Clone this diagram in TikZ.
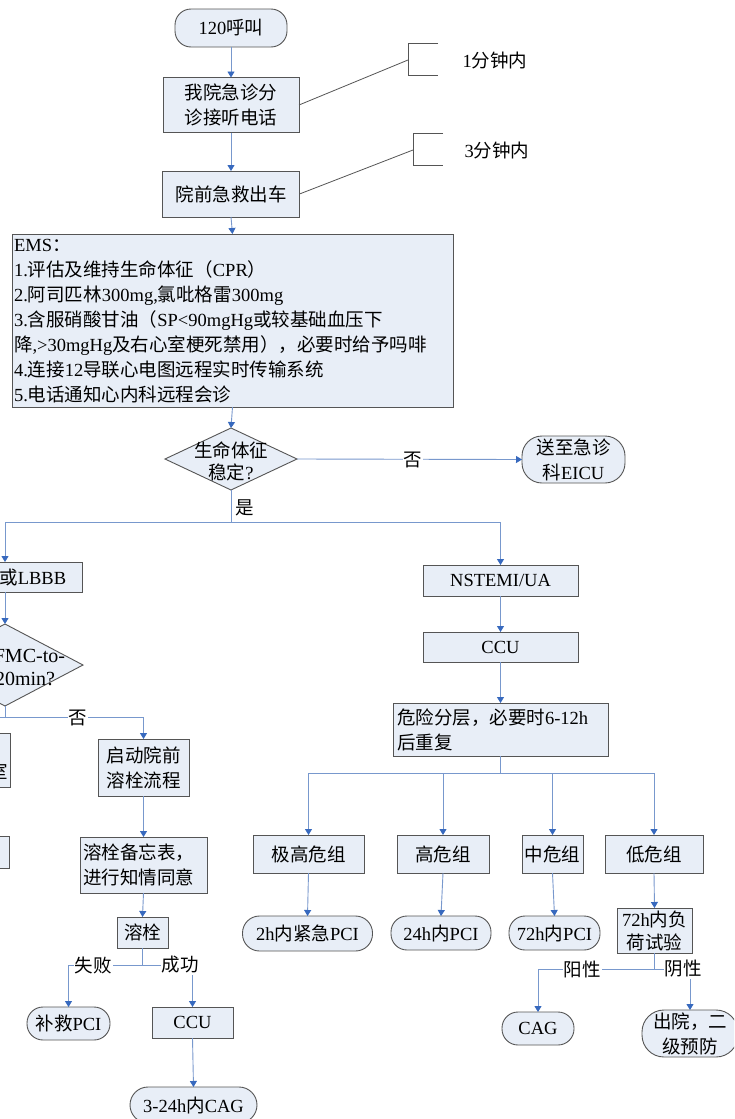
\documentclass[tikz,border=0pt]{standalone}
\usepackage{fontspec}
\setmainfont{Noto Sans CJK SC}
\newfontfamily\latf{Liberation Serif}
\usetikzlibrary{arrows.meta,shapes.geometric}
\newcommand\lat[1]{{\latf #1}}
\definecolor{boxfill}{RGB}{232,238,247}
\definecolor{boxline}{RGB}{85,85,85}
\definecolor{linecol}{RGB}{120,152,205}
\definecolor{arrcol}{RGB}{55,105,190}
\begin{document}
\begin{tikzpicture}[x=1pt,y=-1pt,
  every node/.style={font=\fontsize{18.5}{25}\selectfont, inner sep=0pt, outer sep=0pt},
  box/.style={draw=boxline, fill=boxfill, line width=0.9pt, align=center},
  term/.style={box, rounded corners=16pt},
  dia/.style={draw=boxline, fill=boxfill, line width=0.9pt, diamond, inner sep=0pt},
  conn/.style={draw=linecol, line width=0.9pt},
  arr/.style={conn, -{Triangle[length=6pt,width=7pt,color=arrcol]}},
  lbl/.style={fill=white, inner sep=1pt},
  brk/.style={draw=boxline, line width=0.8pt}
]
\useasboundingbox (0,0) rectangle (734,1119);
\fill[white] (0,0) rectangle (734,1119);
\clip (0,0) rectangle (734,1119);

% top chain
\node[term, minimum width=112pt, minimum height=38pt] (call) at (231,28) {\lat{120}呼叫};
\node[box, minimum width=136pt, minimum height=55pt] (ans) at (231,105) {我院急诊分\\诊接听电话};
\node[box, minimum width=137pt, minimum height=46pt] (car) at (231,194) {院前急救出车};
\node[box, minimum width=441pt, minimum height=173pt] (ems) at (232.5,320.5) {};
\node[anchor=north west, align=left] (emstext) at (14,239) {\lat{EMS}：\\
\lat{1.}评估及维持生命体征（\lat{CPR}）\\
\lat{2.}阿司匹林\lat{300mg,}氯吡格雷\lat{300mg}\\
\lat{3.}含服硝酸甘油（\lat{SP<90mgHg}或较基础血压下\\
降\lat{,>30mgHg}及右心室梗死禁用），必要时给予吗啡\\
\lat{4.}连接\lat{12}导联心电图远程实时传输系统\\
\lat{5.}电话通知心内科远程会诊};

\draw[arr] (call.south) -- (ans.north);
\draw[arr] (ans.south) -- (car.north);
\draw[arr] (car.south) -- (ems.north);

% brackets
\draw[brk] (438,43) -- (408,43) -- (408,75) -- (438,75);
\coordinate (b1) at (408,60);
\draw[brk] (ans.east) -- (b1);
\node (t1) at (495,60) {\lat{1}分钟内};
\draw[brk] (443,133) -- (413,133) -- (413,165) -- (443,165);
\coordinate (b2) at (413,150);
\draw[brk] (car.east) -- (b2);
\node (t3) at (497,150) {\lat{3}分钟内};

% vital signs decision
\node[dia, minimum width=132pt, minimum height=62pt] (vit) at (231,459) {};
\node[font=\fontsize{18.5}{22}\selectfont, align=center] (vittext) at (231,461) {生命体征\\稳定\lat{?}};
\draw[arr] (ems.south) -- (vit.north);
\node[term, rounded corners=20pt, minimum width=103pt, minimum height=47pt] (eicu) at (573.5,459.5) {送至急诊\\科\lat{EICU}};
\draw[arr] (vit.east) -- (eicu.west);
\node[lbl] (no1) at (413,460) {否};

\coordinate (yes) at (231,522);
\draw[conn] (vit.south) -- (yes);
\node[anchor=west] (yeslbl) at (235,508) {是};

% left branch
\node[box, minimum width=154pt, minimum height=30pt] (stemi) at (5,577) {\lat{STEMI}或\lat{LBBB}};
\draw[arr] (yes) -| (stemi.north);
\node[dia, minimum width=156pt, minimum height=82pt] (fmc) at (5,665) {};
\node[anchor=east, font=\fontsize{20}{24}\selectfont] (fmct1) at (65,656) {\lat{FMC-to-}};
\node[anchor=east, font=\fontsize{20}{24}\selectfont] (fmct2) at (55,679) {\lat{120min?}};
\draw[arr] (stemi.south) -- (fmc.north);
\coordinate (fno) at (5,717);
\draw[conn] (fmc.south) -- (fno);

\node[box, minimum width=158pt, minimum height=54pt] (left1) at (-69,760) {};
\node[anchor=east] (left1t) at (8,771) {导管室};
\node[box, minimum width=138pt, minimum height=32pt] (left2) at (-60,852) {};
\draw[arr] (fno) -| (left1.north);

\node[box, minimum width=91pt, minimum height=57pt] (start) at (143.5,767.5) {启动院前\\溶栓流程};
\draw[arr] (fno) -| (start.north);
\node[lbl] (no2) at (78,718) {否};

\node[box, minimum width=127pt, minimum height=56pt] (memo) at (143.5,865) {};
\node[anchor=west, align=left] (memot) at (83,865) {溶栓备忘表，\\进行知情同意};
\draw[arr] (start.south) -- (memo.north);
\node[box, minimum width=51pt, minimum height=31pt] (lys) at (142.5,932.5) {溶栓};
\draw[arr] (memo.south) -- (lys.north);
\coordinate (lyssplit) at (142.5,965);
\draw[conn] (lys.south) -- (lyssplit);
\node[term, minimum width=83pt, minimum height=33pt] (rescue) at (68.5,1023.5) {补救\lat{PCI}};
\node[box, minimum width=81pt, minimum height=31pt] (ccu2) at (192.5,1022.5) {\lat{CCU}};
\draw[arr] (lyssplit) -| (rescue.north);
\draw[arr] (lyssplit) -| (ccu2.north);
\node[lbl] (fail) at (93,965) {失败};
\node[lbl] (succ) at (180,965) {成功};
\node[term, rounded corners=18pt, minimum width=127pt, minimum height=36pt] (cag3) at (193.5,1105) {\lat{3-24h}内\lat{CAG}};
\draw[arr] (ccu2.south) -- (cag3.north);

% right branch
\node[box, minimum width=155pt, minimum height=31pt] (nstemi) at (500.5,580.5) {\lat{NSTEMI/UA}};
\draw[arr] (yes) -| (nstemi.north);
\node[box, minimum width=155pt, minimum height=30pt] (ccu) at (500.5,647) {\lat{CCU}};
\draw[arr] (nstemi.south) -- (ccu.north);
\node[box, minimum width=215pt, minimum height=53pt] (risk) at (500.5,729.5) {};
\node[anchor=west, align=left] (riskt) at (397,730) {危险分层，必要时\lat{6-12h}\\后重复};
\draw[arr] (ccu.south) -- (risk.north);

\coordinate (rsplit) at (500.5,773);
\draw[conn] (risk.south) -- (rsplit);
\node[box, minimum width=111pt, minimum height=38pt] (vh) at (308.5,854) {极高危组};
\node[box, minimum width=92pt, minimum height=38pt] (hi) at (443,854) {高危组};
\node[box, minimum width=61pt, minimum height=38pt] (mid) at (552.5,854) {中危组};
\node[box, minimum width=98pt, minimum height=38pt] (lo) at (654,854) {低危组};
\draw[arr] (rsplit) -| (vh.north);
\draw[arr] (rsplit) -| (hi.north);
\draw[arr] (rsplit) -| (mid.north);
\draw[arr] (rsplit) -| (lo.north);

\node[term, rounded corners=17pt, minimum width=130pt, minimum height=35pt] (pci2) at (307.5,933.5) {\lat{2h}内紧急\lat{PCI}};
\node[term, minimum width=100pt, minimum height=34pt] (pci24) at (441,933) {\lat{24h}内\lat{PCI}};
\node[term, minimum width=91pt, minimum height=34pt] (pci72) at (554.5,933) {\lat{72h}内\lat{PCI}};
\node[box, minimum width=75pt, minimum height=45pt, font=\fontsize{18.5}{23}\selectfont] (stress) at (654.5,930.5) {\lat{72h}内负\\荷试验};
\draw[arr] (vh.south) -- (pci2.north);
\draw[arr] (hi.south) -- (pci24.north);
\draw[arr] (mid.south) -- (pci72.north);
\draw[arr] (lo.south) -- (stress.north);

\coordinate (ssplit) at (654.5,969);
\draw[conn] (stress.south) -- (ssplit);
\node[term, minimum width=72pt, minimum height=33pt] (cag) at (538,1028.5) {\lat{CAG}};
\node[term, rounded corners=22pt, minimum width=96pt, minimum height=47pt] (dis) at (690,1033.5) {出院，二\\级预防};
\draw[arr] (ssplit) -| (cag.north);
\draw[arr] (ssplit) -| (dis.north);
\node[lbl] (pos) at (582,969) {阳性};
\node[lbl] (neg) at (683,969) {阴性};
\end{tikzpicture}
\end{document}
